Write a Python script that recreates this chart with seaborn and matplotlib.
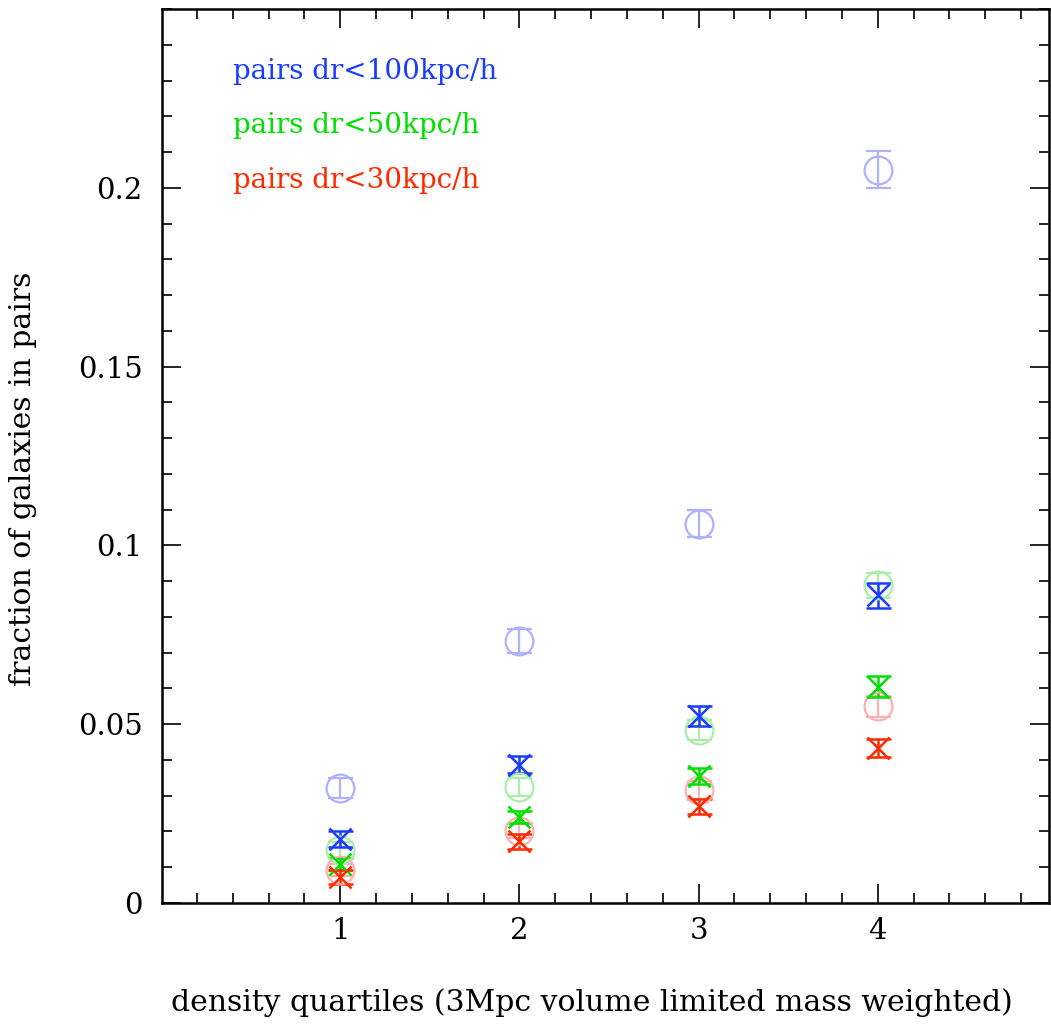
import numpy as np
import seaborn as sns
import matplotlib
matplotlib.use('Agg')
import matplotlib.pyplot as plt
from matplotlib.ticker import MultipleLocator, FixedLocator

# density quartile index
quartiles = [1, 2, 3, 4]

# faint circles (one set per separation cut)
circ_100 = [0.0321, 0.0732, 0.1061, 0.2051]
circ_100_err = [0.0028, 0.0034, 0.0038, 0.0052]
circ_50 = [0.0148, 0.0324, 0.0483, 0.0888]
circ_50_err = [0.0022, 0.0025, 0.0028, 0.0034]
circ_30 = [0.0092, 0.0201, 0.0316, 0.0550]
circ_30_err = [0.0017, 0.0020, 0.0024, 0.0030]

# crosses
pairs_100 = [0.0179, 0.0387, 0.0522, 0.0860]
pairs_100_err = [0.0023, 0.0024, 0.0028, 0.0034]
pairs_50 = [0.0109, 0.0240, 0.0355, 0.0605]
pairs_50_err = [0.0017, 0.0017, 0.0022, 0.0029]
pairs_30 = [0.0073, 0.0173, 0.0270, 0.0434]
pairs_30_err = [0.0019, 0.0021, 0.0021, 0.0025]

labels = ['pairs dr<100kpc/h', 'pairs dr<50kpc/h', 'pairs dr<30kpc/h']

blue, green, red = '#1a3cff', '#00e000', '#ff2a00'
lblue, lgreen, lred = '#b0b0ff', '#a8f0a8', '#ffb0b0'

sns.set_style('ticks')
plt.rcParams['font.family'] = ['DejaVu Serif']
plt.rcParams['text.color'] = 'black'
plt.rcParams['axes.labelcolor'] = 'black'
plt.rcParams['xtick.color'] = 'black'
plt.rcParams['ytick.color'] = 'black'

fig = plt.figure(figsize=(10.51, 10.26), dpi=100)
ax = fig.add_axes([0.1541, 0.1199, 0.8439, 0.8713])

for y, e, c in [(circ_100, circ_100_err, lblue),
                (circ_50, circ_50_err, lgreen),
                (circ_30, circ_30_err, lred)]:
    ax.errorbar(quartiles, y, yerr=e, fmt='o', ms=20, mfc='none', mec=c,
                mew=1.6, ecolor=c, elinewidth=1.6, capsize=9, capthick=1.6)

for y, e, c in [(pairs_100, pairs_100_err, blue),
                (pairs_50, pairs_50_err, green),
                (pairs_30, pairs_30_err, red)]:
    ax.errorbar(quartiles, y, yerr=e, fmt='x', ms=16, mec=c, mew=1.8,
                ecolor=c, elinewidth=1.8, capsize=9, capthick=1.8)

for i, (lab, c) in enumerate(zip(labels, [blue, green, red])):
    ax.text(0.080, 0.9306 - i * 0.0611, lab, color=c, fontsize=20,
            transform=ax.transAxes, va='center', ha='left')

ax.set_xlim(0.005, 4.955)
ax.set_ylim(0, 0.25)
ax.xaxis.set_major_locator(FixedLocator(quartiles))
ax.xaxis.set_minor_locator(MultipleLocator(0.2))
ax.set_yticks([0, 0.05, 0.1, 0.15, 0.2])
ax.set_yticklabels(['0', '0.05', '0.1', '0.15', '0.2'])
ax.yaxis.set_minor_locator(MultipleLocator(0.01))
ax.tick_params(which='both', direction='in', top=True, right=True,
               labelsize=21, color='black', width=1.2)
ax.tick_params(which='major', length=14)
ax.tick_params(which='minor', length=7)
ax.tick_params(axis='x', which='major', pad=10)
ax.tick_params(axis='y', which='major', pad=14)
for s in ax.spines.values():
    s.set_linewidth(1.8)
    s.set_color('black')

ax.set_xlabel('density quartiles (3Mpc volume limited mass weighted)',
              fontsize=21.5)
ax.set_ylabel('fraction of galaxies in pairs', fontsize=21.5)
ax.xaxis.set_label_coords(0.4848, -0.095)
ax.yaxis.set_label_coords(-0.141, 0.474)

fig.savefig('out.png', dpi=100)
